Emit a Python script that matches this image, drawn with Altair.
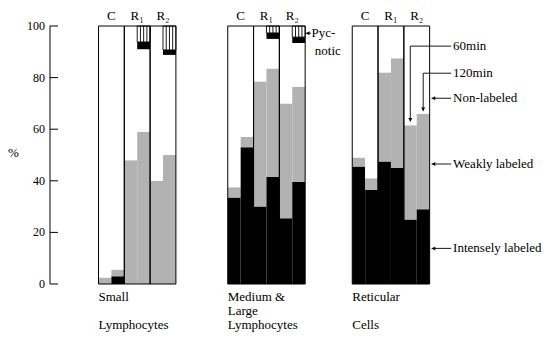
import altair as alt
import pandas as pd

# ---- data -------------------------------------------------------------
panel_lines = [["Small", "", "Lymphocytes"],
               ["Medium &", "Large", "Lymphocytes"],
               ["Reticular", "", "Cells"]]
groups = ["C", "R₁", "R₂"]
times = ["60min", "120min"]
y_ticks = [0, 20, 40, 60, 80, 100]

# percent of cells, indexed [panel][group][time]
intensely = [
    [[0, 3], [0, 0], [0, 0]],
    [[33.5, 53], [30, 41.5], [25.5, 39.5]],
    [[45.5, 36.5], [47.5, 45], [25, 29]],
]
weakly = [
    [[2.5, 2.5], [48, 59], [40, 50]],
    [[4, 4], [48.5, 42], [44.5, 37]],
    [[3.5, 4.5], [34.5, 42.5], [36.5, 37]],
]
pycnotic_labeled = [
    [[0, 0], [0, 2.8], [0, 1.9]],
    [[0, 0], [0, 2.3], [0, 2.3]],
    [[0, 0], [0, 0], [0, 0]],
]
pycnotic_unlabeled = [
    [[0, 0], [0, 6.2], [0, 9.3]],
    [[0, 0], [0, 2.7], [0, 4.3]],
    [[0, 0], [0, 0], [0, 0]],
]

# ---- layout (x in bar-width units) -----------------------------------
PANEL_X = [3.76, 13.78, 23.43]
PX = 500 / 38.76          # pixels per x unit
FONT = "Liberation Serif"

seg_names = ["Intensely labeled", "Weakly labeled", "Non-labeled",
             "Pycnotic labeled", "Pycnotic"]
seg_fill = ["#000000", "#b2b2b2", "#ffffff", "#000000", "#ffffff"]

rows, outlines, hatch, hatch_lines, col_labels = [], [], [], [], []
for p in range(3):
    for g in range(3):
        gx = PANEL_X[p] + 2 * g
        outlines.append({"x0": gx, "x1": gx + 2, "y0": 0, "y1": 100})
        col_labels.append({"x": gx + 1, "y": 104, "t": groups[g]})
        for t in range(2):
            bx = gx + t
            ia = intensely[p][g][t]
            wa = weakly[p][g][t]
            pl = pycnotic_labeled[p][g][t]
            pu = pycnotic_unlabeled[p][g][t]
            na = 100 - ia - wa - pl - pu
            y = 0
            for name, amt in zip(seg_names, [ia, wa, na, pl, pu]):
                if amt > 0:
                    rows.append({"x0": bx, "x1": bx + 1, "y0": y, "y1": y + amt,
                                 "seg": name})
                y += amt
            if pu > 0:
                top0 = 100 - pu
                hatch.append({"x0": bx, "x1": bx + 1, "y0": top0, "y1": 100})
                for k in (1, 2, 3):
                    hatch_lines.append({"x": bx + k / 4, "y0": top0, "y1": 100})

segs = pd.DataFrame(rows)
xs = alt.Scale(domain=[0, 38.76])
ys = alt.Scale(domain=[0, 100])


def X(field):
    return alt.X(field, scale=xs, axis=None)


def Y(field):
    return alt.Y(field, scale=ys, axis=None)


bars = alt.Chart(segs).mark_rect(strokeWidth=0).encode(
    x=X("x0:Q"), x2="x1:Q", y=Y("y0:Q"), y2="y1:Q",
    color=alt.Color("seg:N", scale=alt.Scale(domain=seg_names, range=seg_fill),
                    legend=None),
)

hatch_box = alt.Chart(pd.DataFrame(hatch)).mark_rect(
    fill=None, stroke="black", strokeWidth=0.9).encode(
    x=X("x0:Q"), x2="x1:Q", y=Y("y0:Q"), y2="y1:Q")

hatch_rules = alt.Chart(pd.DataFrame(hatch_lines)).mark_rule(
    color="black", strokeWidth=0.9).encode(x=X("x:Q"), y=Y("y0:Q"), y2="y1:Q")

group_box = alt.Chart(pd.DataFrame(outlines)).mark_rect(
    fill=None, stroke="black", strokeWidth=1).encode(
    x=X("x0:Q"), x2="x1:Q", y=Y("y0:Q"), y2="y1:Q")

# ---- y axis: line, inward ticks, labels -------------------------------
axis_line = alt.Chart(pd.DataFrame({"x": [0], "y0": [0], "y1": [100]})).mark_rule(
    color="black", strokeWidth=1).encode(x=X("x:Q"), y=Y("y0:Q"), y2="y1:Q")

tick_df = pd.DataFrame({"y": y_ticks, "x0": 0, "x1": 8 / PX,
                        "xl": -5 / PX, "t": [str(v) for v in y_ticks]})
tick_rules = alt.Chart(tick_df).mark_rule(color="black", strokeWidth=1).encode(
    x=X("x0:Q"), x2="x1:Q", y=Y("y:Q"))
tick_text = alt.Chart(tick_df).mark_text(
    font=FONT, fontSize=12, baseline="middle", align="right", color="black").encode(
    x=X("xl:Q"), y=Y("y:Q"), text="t:N")

col_text = alt.Chart(pd.DataFrame(col_labels)).mark_text(
    font=FONT, fontSize=13, baseline="middle", align="center", color="black").encode(
    x=X("x:Q"), y=Y("y:Q"), text="t:N")

bottom = []
for p in range(3):
    for i, line in enumerate(panel_lines[p]):
        if line:
            bottom.append({"x": PANEL_X[p], "y": -5 - 5.4 * i, "t": line})
bottom.append({"x": -3.25, "y": 50.8, "t": "%"})
bottom_text = alt.Chart(pd.DataFrame(bottom)).mark_text(
    font=FONT, fontSize=13, baseline="middle", align="left", color="black").encode(
    x=X("x:Q"), y=Y("y:Q"), text="t:N")

# ---- key annotations on the right-hand panel ------------------------
p3_end = PANEL_X[2] + 6
p2_end = PANEL_X[1] + 6
key_x = 31.25
key = pd.DataFrame([
    {"x": key_x, "y": 92.2, "t": "60min"},
    {"x": key_x, "y": 81.7, "t": "120min"},
    {"x": key_x, "y": 72.0, "t": "Non-labeled"},
    {"x": key_x, "y": 46.5, "t": "Weakly labeled"},
    {"x": key_x, "y": 13.8, "t": "Intensely labeled"},
    {"x": p2_end + 0.5, "y": 97.2, "t": "Pyc-"},
    {"x": p2_end + 0.75, "y": 90.4, "t": "notic"},
])
key_text = alt.Chart(key).mark_text(
    font=FONT, fontSize=13, baseline="middle", align="left", color="black").encode(
    x=X("x:Q"), y=Y("y:Q"), text="t:N")

r2_60 = PANEL_X[2] + 4.5
r2_120 = PANEL_X[2] + 5.5
top_60 = intensely[2][2][0] + weakly[2][2][0]
top_120 = intensely[2][2][1] + weakly[2][2][1]

h_lines = pd.DataFrame([
    {"x0": r2_60, "x1": 31.1, "y": 92.2},
    {"x0": r2_120, "x1": 31.1, "y": 81.7},
    {"x0": p3_end + 0.15, "x1": 31.1, "y": 72.0},
    {"x0": p3_end + 0.15, "x1": 31.1, "y": 46.5},
    {"x0": p3_end + 0.15, "x1": 31.1, "y": 13.8},
    {"x0": p2_end + 0.05, "x1": p2_end + 0.45, "y": 97.2},
])
h_rules = alt.Chart(h_lines).mark_rule(color="black", strokeWidth=0.9).encode(
    x=X("x0:Q"), x2="x1:Q", y=Y("y:Q"))

v_lines = pd.DataFrame([
    {"x": r2_60, "y0": top_60 + 1.5, "y1": 92.2},
    {"x": r2_120, "y0": top_120 + 1.0, "y1": 81.7},
])
v_rules = alt.Chart(v_lines).mark_rule(color="black", strokeWidth=0.9).encode(
    x=X("x:Q"), y=Y("y0:Q"), y2="y1:Q")

left_heads = pd.DataFrame([
    {"x": p3_end + 0.3, "y": 72.0},
    {"x": p3_end + 0.3, "y": 46.5},
    {"x": p3_end + 0.3, "y": 13.8},
    {"x": p2_end + 0.2, "y": 97.2},
])
left_arrows = alt.Chart(left_heads).mark_point(
    shape="triangle-left", filled=True, size=16, color="black", opacity=1).encode(
    x=X("x:Q"), y=Y("y:Q"))

down_heads = pd.DataFrame([
    {"x": r2_60, "y": top_60 + 2.2},
    {"x": r2_120, "y": top_120 + 1.7},
])
down_arrows = alt.Chart(down_heads).mark_point(
    shape="triangle-down", filled=True, size=16, color="black", opacity=1).encode(
    x=X("x:Q"), y=Y("y:Q"))

chart = alt.layer(
    bars, hatch_box, hatch_rules, group_box, axis_line, tick_rules, tick_text,
    col_text, bottom_text, key_text, h_rules, v_rules, left_arrows, down_arrows,
).properties(
    width=500, height=258,
    autosize=alt.AutoSizeParams(type="none"),
    padding={"left": 50, "top": 26, "right": 4, "bottom": 54},
    background="white",
).configure_view(stroke=None)

chart.save("out.html", embed_options={"renderer": "svg", "actions": False})
